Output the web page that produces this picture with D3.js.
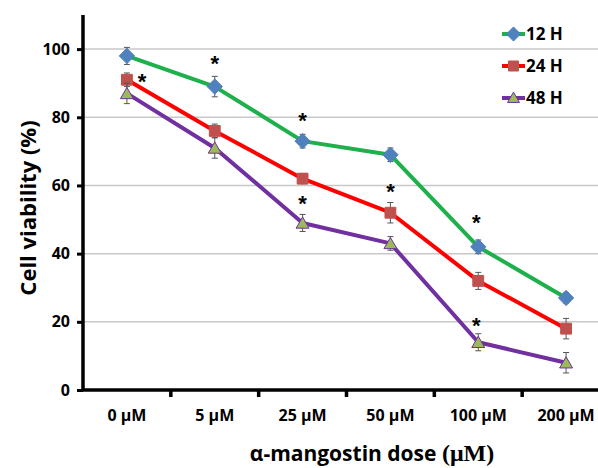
<!DOCTYPE html>
<html>
<head>
<meta charset="utf-8">
<script src="https://cdn.jsdelivr.net/npm/d3@7"></script>
<style>
  body { margin: 0; background: #fff; }
  svg { display: block; font-family: "Open Sans", "DejaVu Sans", sans-serif; font-weight: bold; }
  .grid line { stroke: #c8c8c8; stroke-width: 1.5; }
</style>
</head>
<body>
<script>
'use strict';

const doses = ["0 µM", "5 µM", "25 µM", "50 µM", "100 µM", "200 µM"];
const yTicks = [0, 20, 40, 60, 80, 100];

const h12 = [98, 89, 73, 69, 42, 27];
const h24 = [91, 76, 62, 52, 32, 18];
const h48 = [87, 71, 49, 43, 14, 8];

const err12 = [2.5, 3, 2, 2, 2, 1.5];
const err24 = [2, 2, 1.5, 3, 2.5, 3];
const err48 = [3, 3, 2.5, 2, 2.5, 3];

// significance marks: dose, value, horizontal shift
const starDose = ["0 µM", "5 µM", "25 µM", "25 µM", "50 µM", "100 µM", "100 µM"];
const starValue = [91.5, 96.8, 80, 55.7, 59.2, 50.1, 19.9];
const starShift = [15, 0, 0, 0, 0, -2, -2];

const series = [
  { name: "12 H", values: h12, err: err12, line: "#1db04b", fill: "#4f81bd", stroke: "#4f81bd", shape: d3.symbolDiamond2 },
  { name: "24 H", values: h24, err: err24, line: "#ff0000", fill: "#c0504d", stroke: "#c0504d", shape: d3.symbolSquare2 },
  { name: "48 H", values: h48, err: err48, line: "#7030a0", fill: "#9bbb59", stroke: "#7030a0", shape: d3.symbolTriangle2 },
];

const width = 598, height = 468;
const marginLeft = 83, axisBottom = 390, axisTop = 15, plotRight = 610;

const svg = d3.select("body").append("svg")
  .attr("width", width)
  .attr("height", height);

const x = d3.scaleBand(doses, [marginLeft, plotRight]);
const y = d3.scaleLinear([0, 110], [axisBottom, axisTop]);
const cx = d => x(d) + x.bandwidth() / 2;

// gridlines
svg.append("g").attr("class", "grid")
  .selectAll("line")
  .data(yTicks.filter(t => t > 0))
  .join("line")
  .attr("x1", marginLeft).attr("x2", width)
  .attr("y1", d => y(d)).attr("y2", d => y(d));

// series
const symbolSize = { "12 H": 150, "24 H": 150, "48 H": 120 };
for (const s of series) {
  const g = svg.append("g");
  const pts = s.values.map((v, i) => [cx(doses[i]), y(v)]);
  g.append("path")
    .attr("d", d3.line()(pts))
    .attr("fill", "none")
    .attr("stroke", s.line)
    .attr("stroke-width", 4)
    .attr("stroke-linejoin", "round");
  // error bars
  s.values.forEach((v, i) => {
    const xx = cx(doses[i]), e = s.err[i];
    const eb = g.append("g").attr("stroke", "#555").attr("stroke-width", 1);
    eb.append("line").attr("x1", xx).attr("x2", xx).attr("y1", y(v - e)).attr("y2", y(v + e));
    eb.append("line").attr("x1", xx - 3).attr("x2", xx + 3).attr("y1", y(v - e)).attr("y2", y(v - e));
    eb.append("line").attr("x1", xx - 3).attr("x2", xx + 3).attr("y1", y(v + e)).attr("y2", y(v + e));
  });
  g.selectAll(".m")
    .data(s.values)
    .join("path")
    .attr("transform", (v, i) => `translate(${cx(doses[i])},${y(v) + (s.shape === d3.symbolTriangle2 ? 1.5 : 0)})`)
    .attr("d", d3.symbol(s.shape, symbolSize[s.name]))
    .attr("fill", s.fill)
    .attr("stroke", s.stroke)
    .attr("stroke-width", 1);
}

// asterisks
svg.append("g")
  .selectAll("text")
  .data(starValue)
  .join("text")
  .attr("x", (v, i) => cx(starDose[i]) + starShift[i])
  .attr("y", v => y(v) + 11)
  .attr("text-anchor", "middle")
  .attr("font-size", 22)
  .attr("font-family", "Liberation Sans, Arial, sans-serif")
  .text("*");

// y axis
const yAxis = svg.append("g")
  .attr("transform", `translate(${marginLeft},0)`)
  .call(d3.axisLeft(y).tickValues(yTicks).tickSize(6).tickPadding(7));
yAxis.select(".domain").attr("d", `M0,${axisBottom}V${axisTop}`).attr("stroke-width", 3.5);
yAxis.selectAll(".tick line").attr("stroke-width", 3);
yAxis.selectAll(".tick text").attr("font-size", 16).attr("font-weight", "bold").attr("font-family", "Open Sans, sans-serif");

// x axis
const xAxis = svg.append("g")
  .attr("transform", `translate(0,${axisBottom})`)
  .call(d3.axisBottom(x).tickSize(0).tickPadding(20));
xAxis.select(".domain").attr("d", `M${marginLeft},0H${width}`).attr("stroke-width", 3.5);
xAxis.selectAll(".tick text").attr("font-size", 16).attr("font-weight", "bold").attr("font-family", "Open Sans, sans-serif");
xAxis.append("g")
  .selectAll("line")
  .data(doses.slice(1))
  .join("line")
  .attr("x1", d => x(d)).attr("x2", d => x(d))
  .attr("y1", 0).attr("y2", 7)
  .attr("stroke", "#000")
  .attr("stroke-width", 3.5);

// titles
svg.append("text")
  .attr("transform", "translate(36,208) rotate(-90)")
  .attr("text-anchor", "middle")
  .attr("font-size", 22)
  .text("Cell viability (%)");

const xt = svg.append("text")
  .attr("x", 372)
  .attr("y", 461)
  .attr("text-anchor", "middle")
  .attr("font-size", 21);
xt.append("tspan").text("α-mangostin dose ");
xt.append("tspan").attr("font-family", "Liberation Serif, serif").attr("font-size", 24).text("(μM)");

// legend
const leg = svg.append("g");
series.forEach((s, i) => {
  const ly = 34 + i * 32;
  leg.append("line")
    .attr("x1", 502).attr("x2", 525).attr("y1", ly).attr("y2", ly)
    .attr("stroke", s.line).attr("stroke-width", 4);
  leg.append("path")
    .attr("transform", `translate(513.5,${ly + (s.shape === d3.symbolTriangle2 ? 1 : 0)})`)
    .attr("d", d3.symbol(s.shape, symbolSize[s.name] * 0.85))
    .attr("fill", s.fill)
    .attr("stroke", s.stroke)
    .attr("stroke-width", 1);
  leg.append("text")
    .attr("x", 526).attr("y", ly + 6)
    .attr("font-size", 17)
    .text(s.name);
});
</script>
</body>
</html>
